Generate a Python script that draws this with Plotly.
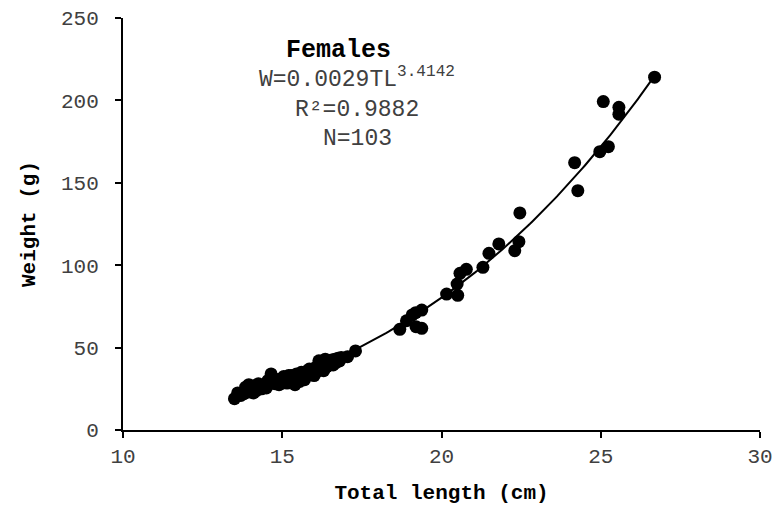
import numpy as np
import plotly.graph_objects as go

# Total length (cm) and weight (g) of females
length_cm = [
    13.5, 13.6, 13.7, 13.8, 13.85, 13.9, 13.95, 14.0, 14.05, 14.1, 14.12, 14.15, 14.2, 14.25,
    14.3, 14.35, 14.4, 14.45, 14.5, 14.55, 14.6, 14.62, 14.65, 14.7, 14.75, 14.8, 14.85, 14.9,
    14.95, 14.98, 15.0, 15.05, 15.1, 15.12, 15.15, 15.2, 15.25, 15.28, 15.3, 15.35, 15.4, 15.45,
    15.5, 15.52, 15.55, 15.6, 15.65, 15.7, 15.72, 15.75, 15.8, 15.85, 15.88, 15.9, 15.95, 16.0,
    16.05, 16.08, 16.1, 16.15, 16.2, 16.25, 16.28, 16.3, 16.35, 16.4, 16.45, 16.5, 16.55, 16.6,
    16.62, 16.65, 16.7, 16.75, 16.8, 16.85, 17.05, 17.3,
    18.69, 18.9, 19.08, 19.19, 19.2, 19.38, 19.38, 20.16, 20.49, 20.51, 20.58, 20.78, 21.3,
    21.49, 21.8, 22.3, 22.43,
    22.46, 24.18, 24.28, 24.97, 25.08, 25.24, 25.57, 25.57, 26.69,
]
weight_g = [
    19.0, 22.5, 21.0, 22.0, 26.0, 24.5, 27.5, 23.0, 25.5, 22.5, 25.5, 27.0, 24.0, 28.0,
    26.0, 25.0, 27.5, 26.5, 25.5, 30.0, 28.0, 29.5, 34.0, 31.5, 29.0, 28.0, 30.5, 27.5,
    31.0, 28.5, 29.5, 32.5, 30.0, 31.5, 28.5, 33.0, 31.0, 33.0, 30.0, 32.0, 27.5, 34.0,
    31.5, 33.5, 29.5, 35.0, 32.5, 30.5, 34.0, 35.5, 33.5, 37.0, 35.5, 34.5, 36.5, 33.0,
    38.0, 37.0, 35.5, 42.0, 37.0, 39.5, 40.0, 36.0, 43.0, 38.5, 41.0, 40.0, 42.5, 39.5,
    41.5, 43.0, 41.0, 43.5, 42.0, 44.0, 44.5, 48.0,
    61.1, 66.3, 69.8, 71.2, 62.7, 72.8, 61.7, 82.5, 88.6, 81.7, 95.1, 97.5, 98.7,
    107.2, 112.9, 108.8, 114.3,
    131.7, 162.2, 145.2, 168.9, 199.3, 171.9, 195.8, 191.6, 214.1,
]

# Fitted power model shown on the chart
coef_a = 0.0029
coef_b = 3.4142
x_ticks = [10, 15, 20, 25, 30]
y_ticks = [0, 50, 100, 150, 200, 250]

FONT = "Liberation Mono, Courier New, monospace"
GREY = "#404040"

fit_x = np.linspace(min(length_cm), max(length_cm), 200)
fit_y = coef_a * fit_x ** coef_b

fig = go.Figure()
fig.add_trace(go.Scatter(
    x=length_cm, y=weight_g, mode="markers",
    marker=dict(color="black", size=13, line=dict(width=0)),
    showlegend=False, hoverinfo="x+y",
))
fig.add_trace(go.Scatter(
    x=fit_x, y=fit_y, mode="lines",
    line=dict(color="black", width=2),
    showlegend=False, hoverinfo="skip",
))

annotations = [
    dict(text="<b>Females</b>", x=16.76, y=230, size=25, color="black"),
    dict(text="W=0.0029TL<sup>3.4142</sup>", x=17.36, y=213.5, size=23, color=GREY),
    dict(text="R²=0.9882", x=17.36, y=194, size=23, color=GREY),
    dict(text="N=103", x=17.36, y=176.5, size=23, color=GREY),
]
fig.update_layout(
    width=774, height=509,
    margin=dict(l=123, r=14, t=18, b=79, autoexpand=False),
    paper_bgcolor="white", plot_bgcolor="white",
    font=dict(family=FONT, color=GREY),
    annotations=[
        dict(x=a["x"], y=a["y"], xref="x", yref="y", text=a["text"], showarrow=False,
             xanchor="center", yanchor="middle",
             font=dict(family=FONT, size=a["size"], color=a["color"]))
        for a in annotations
    ],
)
fig.update_xaxes(
    range=[10, 30], tickvals=x_ticks, ticktext=[str(v) for v in x_ticks],
    showgrid=False, zeroline=False, showline=True, linecolor="black", linewidth=2,
    ticks="outside", ticklen=6, tickwidth=2, tickcolor="black", automargin=False,
    tickfont=dict(family=FONT, size=21, color=GREY),
    title=dict(text="<b>Total length (cm)</b>", font=dict(family=FONT, size=21, color="black"), standoff=16),
)
fig.update_yaxes(
    range=[0, 250], tickvals=y_ticks, ticktext=[str(v) for v in y_ticks],
    showgrid=False, zeroline=False, showline=True, linecolor="black", linewidth=2,
    ticks="outside", ticklen=6, tickwidth=2, tickcolor="black", automargin=False,
    ticklabelstandoff=12,
    tickfont=dict(family=FONT, size=21, color=GREY),
    title=dict(text="<b>Weight (g)</b>", font=dict(family=FONT, size=21, color="black"), standoff=20),
)

# remove the default page margin so the 774x509 figure fills the window exactly
fig.write_html(
    "out.html",
    config={"displayModeBar": False},
    post_script="document.body.style.margin='0';",
)
